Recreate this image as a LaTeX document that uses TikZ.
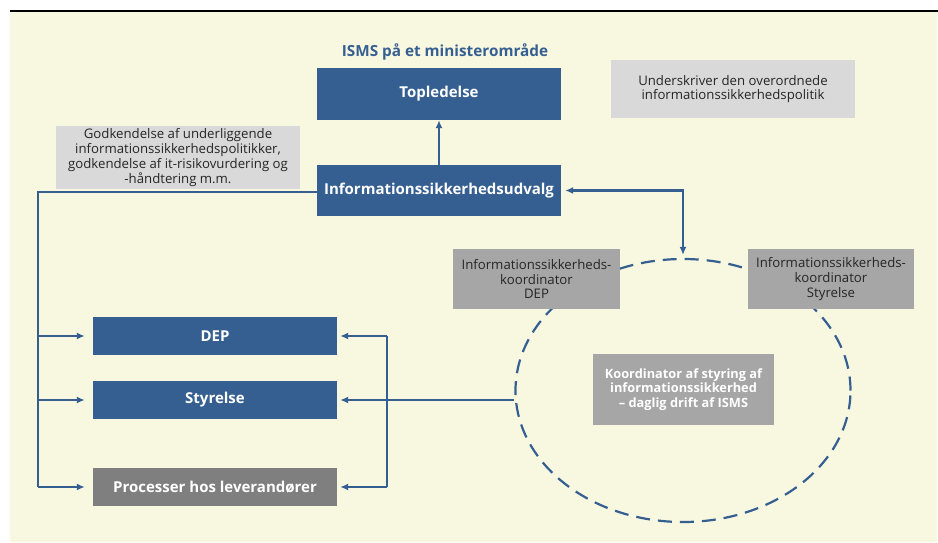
\documentclass[tikz,border=0pt]{standalone}
\usepackage{fontspec}
\setmainfont{Open Sans}
\usepackage{tikz}
\usetikzlibrary{shapes.geometric, arrows.meta}
\definecolor{isblaa}{HTML}{365F91}
\definecolor{isbaggrund}{HTML}{F8F8E1}
\definecolor{islysgraa}{HTML}{D9D9D9}
\definecolor{isgraa}{HTML}{A6A6A6}
\definecolor{ismoerkgraa}{HTML}{7F7F7F}
\definecolor{istekst}{HTML}{262626}
\tikzstyle{blaaboks}=[rectangle, fill=isblaa, text=white, font=\fontsize{15}{17}\selectfont\bfseries, minimum width=244, inner sep=0pt]
\tikzstyle{noteboks}=[rectangle, fill=islysgraa, text=istekst, font=\fontsize{13.2}{14.7}\selectfont, align=center, minimum width=244, inner sep=0pt]
\tikzstyle{koordboks}=[rectangle, fill=isgraa, text=istekst, font=\fontsize{13.2}{14.7}\selectfont, align=center, minimum height=60, inner sep=0pt]
\tikzstyle{pil}=[draw=isblaa, line width=2.2pt, -{Latex[length=8pt,width=7pt]}]
\tikzstyle{linje}=[draw=isblaa, line width=2.2pt]

\begin{document}
\begin{tikzpicture}[x=1pt, y=-1pt]
    \useasboundingbox (0,0) rectangle (938,542);
    % Baggrund og streg foroven
    \fill[isbaggrund] (10,12) rectangle (937,542);
    \draw[line width=1.5pt] (10,11) -- (938,11);

    % Overskrift
    \node[text=isblaa, font=\fontsize{15.3}{17}\selectfont\bfseries] (titel) at (445,52) {ISMS på et ministerområde};

    % Ledelse og udvalg
    \node[blaaboks, minimum height=52] (top) at (439,94) {Topledelse};
    \node[blaaboks, minimum height=51] (udvalg) at (439,190.5) {Informationssikkerhedsudvalg};

    % Forklarende bokse
    \node[noteboks, minimum height=63] (godkend) at (178,157.5) {Godkendelse af underliggende\\informationssikkerhedspolitikker,\\godkendelse af it-risikovurdering og\\-håndtering m.m.};
    \node[noteboks, minimum height=58] (underskriv) at (733,89) {Underskriver den overordnede\\informationssikkerhedspolitik};

    % Organisationer
    \node[blaaboks, minimum height=38] (dep) at (215,336) {DEP};
    \node[blaaboks, minimum height=38] (styrelse) at (215,400) {Styrelse};
    \node[blaaboks, fill=ismoerkgraa, minimum height=38] (lev) at (215,487) {Processer hos leverandører};

    % Koordinatorring
    \node[ellipse, draw=isblaa, line width=2.2pt, dash pattern=on 14pt off 8pt, minimum width=335, minimum height=263] (ring) at (683,390.5) {};
    \node[koordboks, minimum width=167] (kdep) at (536.5,279) {Informationssikkerheds-\\koordinator\\DEP};
    \node[koordboks, minimum width=166] (ksty) at (831,279) {Informationssikkerheds-\\koordinator\\Styrelse};
    \node[koordboks, minimum width=181, minimum height=71, text=white, font=\fontsize{12.8}{14.7}\selectfont\bfseries] (drift) at (683.5,389.5) {Koordinator af styring af\\informationssikkerhed\\– daglig drift af ISMS};

    % Forbindelser
    \draw[pil] (udvalg.north) -- (top.south);
    \draw[pil, {Latex[length=8pt,width=7pt]}-{Latex[length=8pt,width=7pt]}, shorten <=4pt, shorten >=3pt] (udvalg.east) -| (ring.north);

    \coordinate (vtop) at (38,192);
    \coordinate (vbund) at (38,487);
    \draw[linje] (udvalg.west |- vtop) -- (vtop) -- (vbund);
    \foreach \boks in {dep, styrelse, lev}
        \draw[pil, shorten >=8pt] (vtop |- \boks.west) -- (\boks.west);

    \coordinate (htop) at (387,336);
    \coordinate (hbund) at (387,487);
    \draw[linje] (htop) -- (hbund);
    \draw[pil, shorten >=3pt] (htop) -- (dep.east);
    \draw[pil, shorten >=3pt] (hbund) -- (lev.east);
    \draw[pil, shorten >=3pt] (ring.west |- styrelse.east) -- (styrelse.east);
\end{tikzpicture}
\end{document}
